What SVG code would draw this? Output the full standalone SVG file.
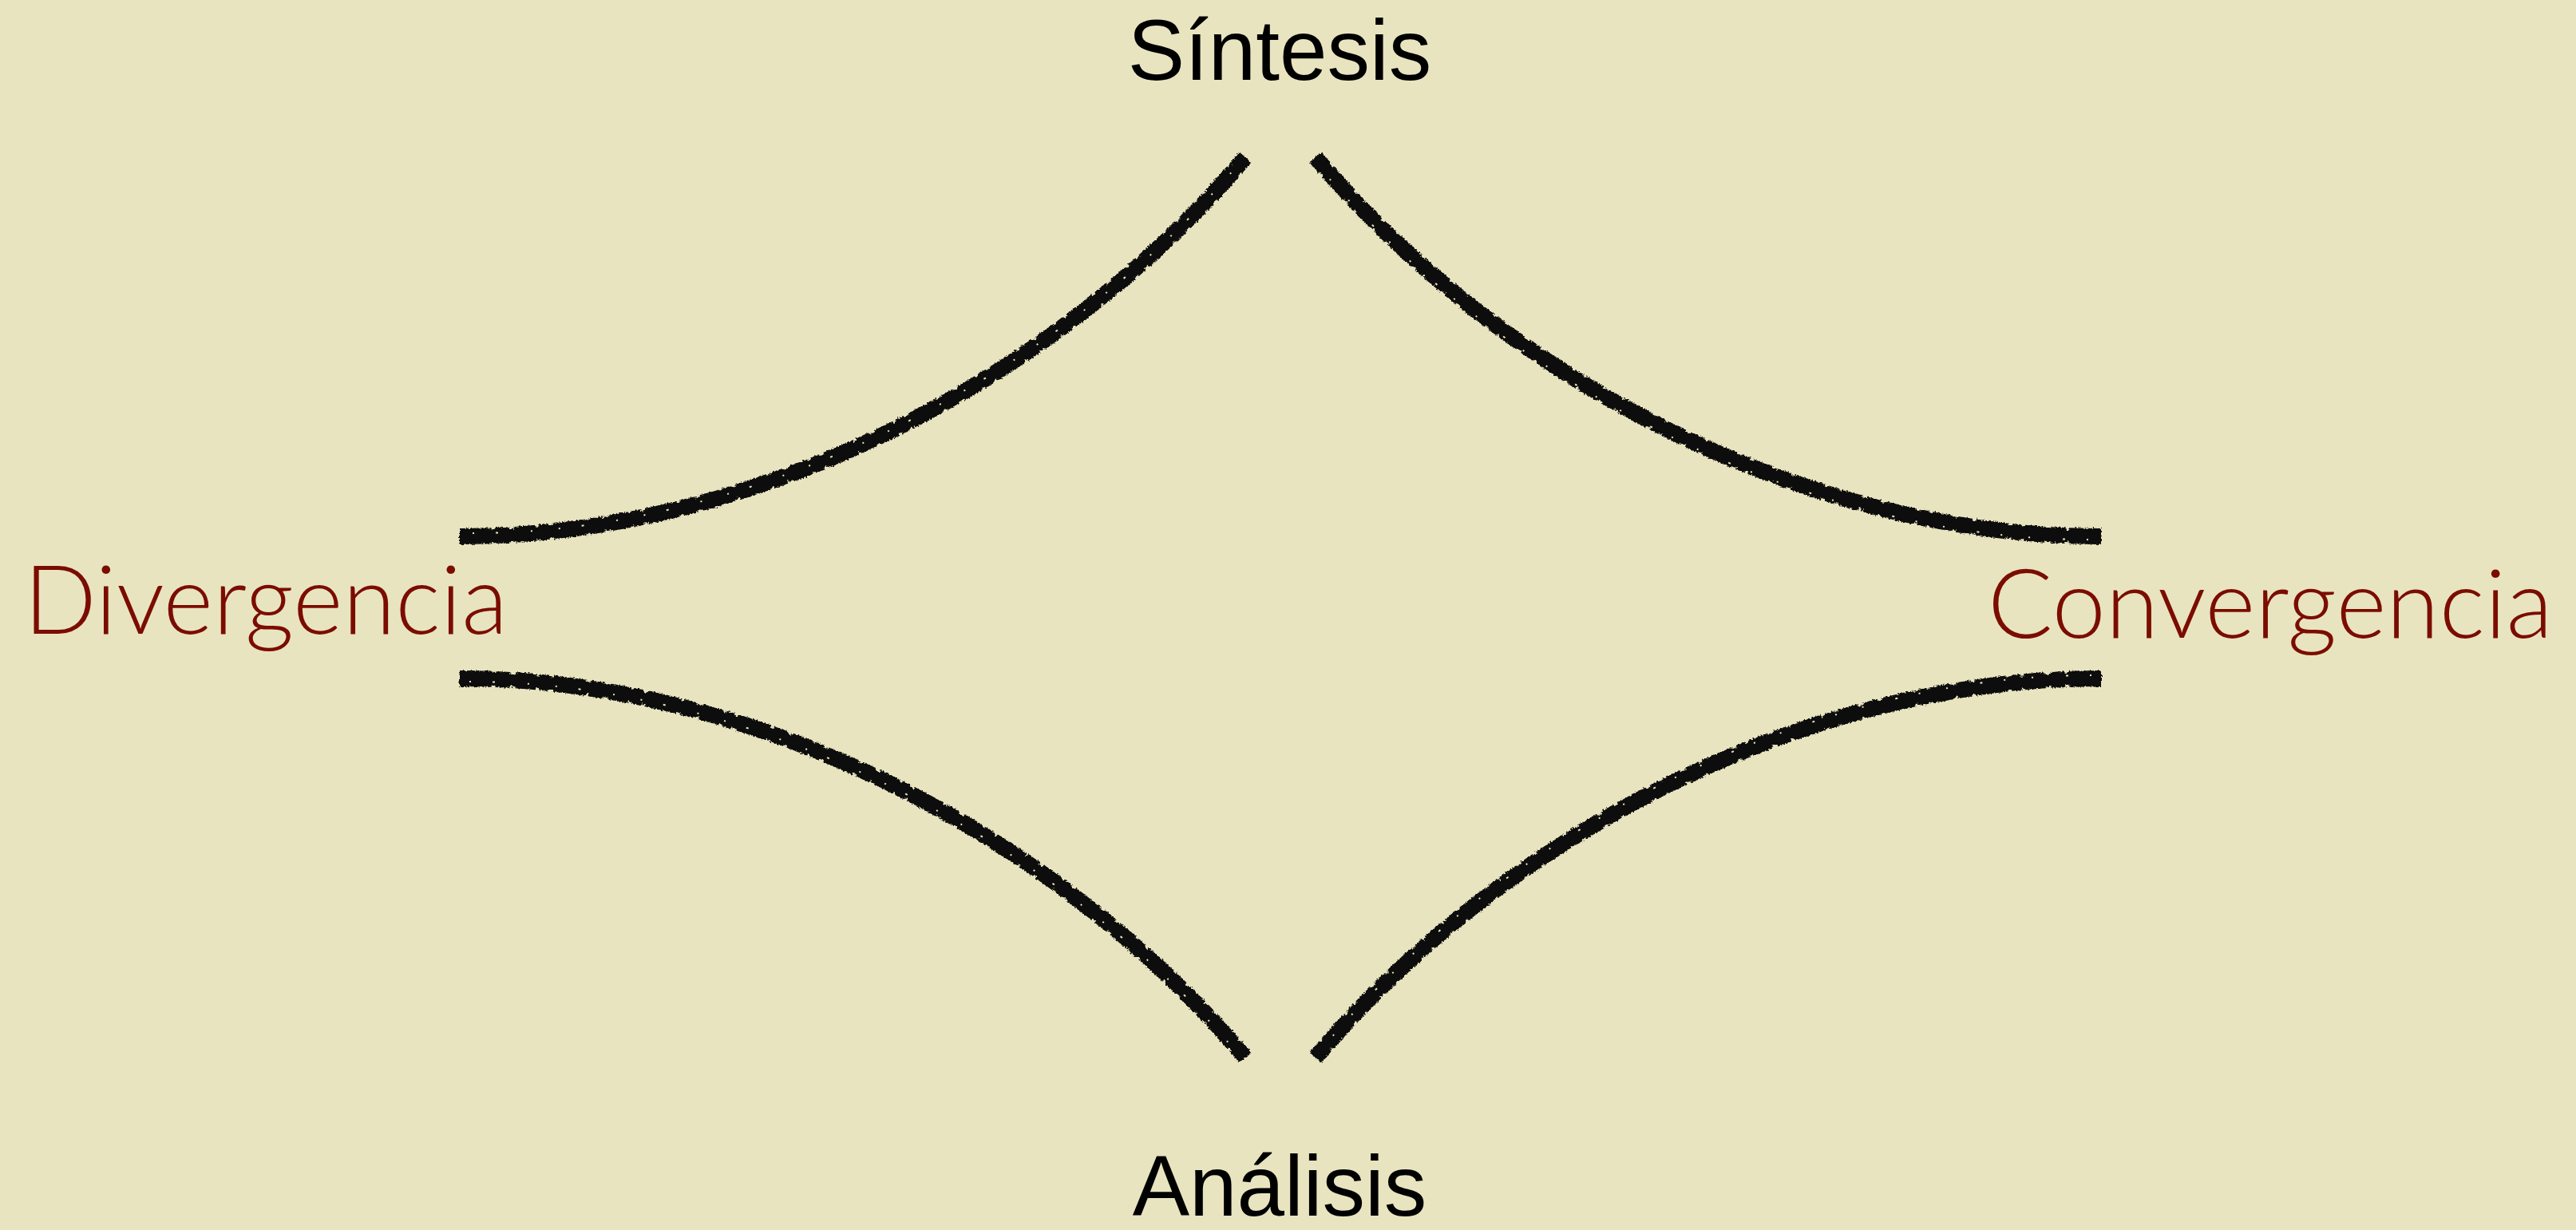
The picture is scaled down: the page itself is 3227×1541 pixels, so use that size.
<svg xmlns="http://www.w3.org/2000/svg" width="3227" height="1541" viewBox="0 0 3227 1541">
  <defs>
    <filter id="rough" x="-5%" y="-5%" width="110%" height="110%">
      <feTurbulence type="fractalNoise" baseFrequency="0.28" numOctaves="2" seed="7" result="noise"/>
      <feDisplacementMap in="SourceGraphic" in2="noise" scale="7" xChannelSelector="R" yChannelSelector="G"/>
    </filter>
    <filter id="rough2" x="-5%" y="-5%" width="110%" height="110%">
      <feTurbulence type="fractalNoise" baseFrequency="0.5" numOctaves="1" seed="21" result="noise"/>
      <feDisplacementMap in="SourceGraphic" in2="noise" scale="5" xChannelSelector="G" yChannelSelector="R"/>
    </filter>
  </defs>
  <style>
    .bg { fill: #E8E4C0; }
    .core { fill: none; stroke: #0e0e0e; stroke-width: 16; stroke-linecap: butt; filter: url(#rough); }
    .fringe { fill: none; stroke: #0e0e0e; stroke-width: 20; stroke-linecap: butt; stroke-dasharray: 40 5 18 7 26 4 12 6; filter: url(#rough2); }
    .holes { fill: none; stroke: #E8E4C0; stroke-width: 2; stroke-dasharray: 2 27 3 41 2 33; }
    .label-black { font-family: "Liberation Sans", Arial, sans-serif; font-size: 107px; fill: #000000; text-anchor: middle; }
    .label-red { font-family: Lato, "Segoe UI", "Open Sans", sans-serif; font-weight: 300; font-size: 121px; fill: #7B0C00; }
  </style>
  <rect class="bg" x="0" y="0" width="3227" height="1541"/>

  <g id="connectors">
    <g id="curve-top-left">
      <path class="fringe" d="M576,672 C950,672 1330,470 1560,197"/>
      <path class="core" d="M576,672 C950,672 1330,470 1560,197"/>
      <path class="holes" transform="translate(2,-4)" d="M590,672 C950,672 1330,470 1550,209"/>
    </g>
    <g id="curve-top-right">
      <path class="fringe" d="M2632,672 C2258,672 1878,470 1648,197"/>
      <path class="core" d="M2632,672 C2258,672 1878,470 1648,197"/>
      <path class="holes" transform="translate(-2,4)" d="M2618,672 C2258,672 1878,470 1658,209"/>
    </g>
    <g id="curve-bottom-left">
      <path class="fringe" d="M576,850 C950,850 1330,1052 1560,1325"/>
      <path class="core" d="M576,850 C950,850 1330,1052 1560,1325"/>
      <path class="holes" transform="translate(-2,4)" d="M590,850 C950,850 1330,1052 1550,1313"/>
    </g>
    <g id="curve-bottom-right">
      <path class="fringe" d="M2632,850 C2258,850 1878,1052 1648,1325"/>
      <path class="core" d="M2632,850 C2258,850 1878,1052 1648,1325"/>
      <path class="holes" transform="translate(2,-4)" d="M2618,850 C2258,850 1878,1052 1658,1313"/>
    </g>
  </g>

  <g id="node-sintesis">
    <text class="label-black" x="1603" y="100">Síntesis</text>
  </g>
  <g id="node-analisis">
    <text class="label-black" x="1603" y="1523">Análisis</text>
  </g>
  <g id="node-divergencia">
    <text class="label-red" x="30" y="794" textLength="606" lengthAdjust="spacingAndGlyphs">Divergencia</text>
  </g>
  <g id="node-convergencia">
    <text class="label-red" x="2490" y="799" textLength="708" lengthAdjust="spacingAndGlyphs">Convergencia</text>
  </g>
</svg>
